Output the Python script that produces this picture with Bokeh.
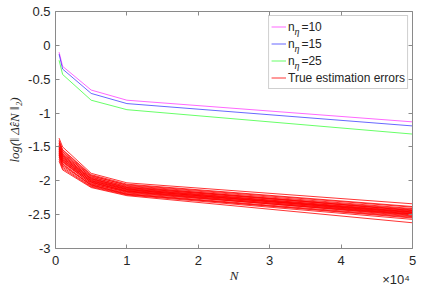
from bokeh.plotting import figure
from bokeh.models import (Legend, LegendItem, Label, LinearAxis, FixedTicker, Range1d,
                          CustomJSTickFormatter)
from bokeh.embed import file_html
from bokeh.resources import INLINE

# ---------------- data ----------------
N = [500, 1000, 5000, 10000, 50000]
n_eta10 = [-0.10, -0.31, -0.66, -0.81, -1.13]
n_eta15 = [-0.13, -0.35, -0.71, -0.86, -1.19]
n_eta25 = [-0.22, -0.43, -0.81, -0.95, -1.31]

true_errors = [
    [-1.37, -1.50, -1.89, -2.03, -2.34],
    [-1.40, -1.54, -1.91, -2.05, -2.38],
    [-1.42, -1.55, -1.92, -2.07, -2.41],
    [-1.44, -1.57, -1.93, -2.06, -2.39],
    [-1.45, -1.58, -1.95, -2.08, -2.44],
    [-1.47, -1.60, -1.94, -2.09, -2.42],
    [-1.48, -1.62, -1.96, -2.10, -2.43],
    [-1.49, -1.61, -1.97, -2.11, -2.46],
    [-1.50, -1.64, -1.97, -2.10, -2.44],
    [-1.51, -1.63, -1.99, -2.12, -2.47],
    [-1.52, -1.66, -1.98, -2.12, -2.45],
    [-1.53, -1.67, -2.00, -2.13, -2.48],
    [-1.54, -1.65, -2.01, -2.14, -2.46],
    [-1.55, -1.69, -2.00, -2.13, -2.49],
    [-1.56, -1.70, -2.02, -2.15, -2.47],
    [-1.57, -1.68, -2.03, -2.15, -2.50],
    [-1.58, -1.72, -2.02, -2.16, -2.49],
    [-1.59, -1.73, -2.04, -2.17, -2.51],
    [-1.60, -1.71, -2.05, -2.16, -2.52],
    [-1.61, -1.75, -2.06, -2.18, -2.50],
    [-1.63, -1.76, -2.07, -2.19, -2.53],
    [-1.62, -1.78, -2.06, -2.20, -2.54],
    [-1.65, -1.80, -2.08, -2.20, -2.55],
    [-1.68, -1.82, -2.09, -2.21, -2.57],
    [-1.71, -1.84, -2.10, -2.22, -2.62],
]

x_ticks = [0, 10000, 20000, 30000, 40000, 50000]
x_tick_labels = ["0", "1", "2", "3", "4", "5"]
y_ticks = [-3.0, -2.5, -2.0, -1.5, -1.0, -0.5, 0.0, 0.5]
y_tick_labels = ["-3", "-2.5", "-2", "-1.5", "-1", "-0.5", "0", "0.5"]

legend_labels = ["n  =10", "n  =15", "n  =25", "True estimation errors"]
x_title = "N"
y_title = "log(‖ Δ̂εN ‖₂)"
x_multiplier = "×10⁴"
x_multiplier_at = 47700

# ---------------- figure ----------------
p = figure(width=425, height=289, x_range=Range1d(0, 50000), y_range=Range1d(-3, 0.5),
           output_backend="svg", toolbar_location=None,
           min_border_left=55, min_border_right=13, min_border_top=11, min_border_bottom=41)
p.grid.visible = False
p.outline_line_color = None
p.background_fill_color = "white"
p.border_fill_color = "white"

AX_COL = "#8a8a8a"
TXT_COL = "#262626"
SANS = "Liberation Sans"
SERIF = "Liberation Serif"

def style_axis(ax, show_labels):
    ax.axis_line_color = AX_COL
    ax.axis_line_width = 1
    ax.major_tick_line_color = AX_COL
    ax.major_tick_in = 4
    ax.major_tick_out = 0
    ax.minor_tick_in = 0
    ax.minor_tick_out = 0
    ax.minor_tick_line_color = None
    if show_labels:
        ax.major_label_text_font = SANS
        ax.major_label_text_font_size = "13px"
        ax.major_label_text_color = TXT_COL
    else:
        ax.formatter = CustomJSTickFormatter(code="return ''")
        ax.major_label_standoff = 0

xa = p.xaxis[0]
xa.ticker = FixedTicker(ticks=x_ticks)
xa.major_label_overrides = {t: l for t, l in zip(x_ticks, x_tick_labels)}
xa.major_label_standoff = 7
style_axis(xa, True)
xa.axis_label = x_title
xa.axis_label_text_font = SERIF
xa.axis_label_text_font_style = "italic"
xa.axis_label_text_font_size = "13px"
xa.axis_label_text_color = TXT_COL
xa.axis_label_standoff = 0

ya = p.yaxis[0]
ya.ticker = FixedTicker(ticks=y_ticks)
ya.major_label_overrides = {t: l for t, l in zip(y_ticks, y_tick_labels)}
ya.major_label_standoff = 5
style_axis(ya, True)
ya.axis_label = y_title
ya.axis_label_text_font = SERIF
ya.axis_label_text_font_style = "italic"
ya.axis_label_text_font_size = "13px"
ya.axis_label_text_color = TXT_COL
ya.axis_label_standoff = 3

# "x10^4" multiplier as a label-only axis below the main one
mult_ax = LinearAxis(ticker=FixedTicker(ticks=[x_multiplier_at]),
                     major_label_overrides={x_multiplier_at: x_multiplier})
mult_ax.axis_line_color = None
mult_ax.major_tick_line_color = None
mult_ax.minor_tick_line_color = None
mult_ax.major_tick_in = 0
mult_ax.major_tick_out = 0
mult_ax.minor_tick_in = 0
mult_ax.minor_tick_out = 0
mult_ax.major_label_standoff = -14
mult_ax.major_label_text_font = SANS
mult_ax.major_label_text_font_size = "13px"
mult_ax.major_label_text_color = TXT_COL
p.add_layout(mult_ax, "below")

top_ax = LinearAxis(ticker=FixedTicker(ticks=x_ticks))
style_axis(top_ax, False)
p.add_layout(top_ax, "above")
right_ax = LinearAxis(ticker=FixedTicker(ticks=y_ticks))
style_axis(right_ax, False)
p.add_layout(right_ax, "right")

# ---------------- lines ----------------
red_renderers = []
for row in true_errors:
    r = p.line(N, row, line_color="red", line_width=0.8)
    red_renderers.append(r)
r10 = p.line(N, n_eta10, line_color="#ff00ff", line_width=0.6)
r15 = p.line(N, n_eta15, line_color="#0000ff", line_width=0.6)
r25 = p.line(N, n_eta25, line_color="#00ff00", line_width=0.6)

# subscript eta for the legend labels (legend background is transparent)
for i in range(3):
    p.add_layout(Label(x=239, y=217 - 17 * i, x_units="screen", y_units="screen",
                       text="η", text_font=SERIF, text_font_style="italic",
                       text_font_size="10px", text_color=TXT_COL,
                       text_baseline="alphabetic", text_align="left"))

legend = Legend(items=[
    LegendItem(label=legend_labels[0], renderers=[r10]),
    LegendItem(label=legend_labels[1], renderers=[r15]),
    LegendItem(label=legend_labels[2], renderers=[r25]),
    LegendItem(label=legend_labels[3], renderers=[red_renderers[0]]),
], location="top_right", margin=4, padding=2, spacing=0,
    glyph_width=15, glyph_height=17, label_height=17, label_standoff=2,
    label_text_font=SANS, label_text_font_size="12px", label_text_color=TXT_COL,
    border_line_color="#a0a0a0", border_line_width=1,
    background_fill_color=None, background_fill_alpha=0.0)
p.add_layout(legend)

open("out.html", "w").write(file_html(p, INLINE))
